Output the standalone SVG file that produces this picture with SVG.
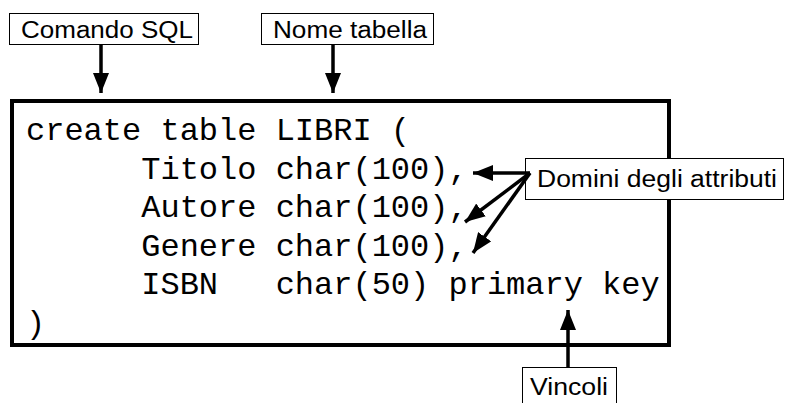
<svg xmlns="http://www.w3.org/2000/svg" width="786" height="403" viewBox="0 0 786 403">
  <style>
    .label-box { fill: #ffffff; stroke: #000000; stroke-width: 1; }
    .label { font-family: "Liberation Sans", Arial, sans-serif; font-size: 23.5px; fill: #000000; }
    .code { font-family: "Courier New", "Nimbus Mono PS", FreeMono, "Liberation Mono", monospace; font-size: 32px; fill: #000000; white-space: pre; }
    .code-box { fill: #ffffff; stroke: #000000; stroke-width: 4; }
    .conn { stroke: #000000; stroke-width: 3.5; fill: none; marker-end: url(#head); }
  </style>
  <defs>
    <marker id="head" markerUnits="userSpaceOnUse" markerWidth="20" markerHeight="16" refX="20" refY="8" orient="auto" viewBox="0 0 20 16">
      <path d="M0,0 L20,8 L0,16 Z" fill="#000000"/>
    </marker>
  </defs>

  <rect width="786" height="403" fill="#ffffff"/>

  <!-- SQL statement block -->
  <g id="code">
    <rect class="code-box" x="12" y="101" width="657" height="244"/>
    <text class="code" x="26" y="140" xml:space="preserve">create table LIBRI (</text>
    <text class="code" x="26" y="178.5" xml:space="preserve">      Titolo char(100),</text>
    <text class="code" x="26" y="217" xml:space="preserve">      Autore char(100),</text>
    <text class="code" x="26" y="255.5" xml:space="preserve">      Genere char(100),</text>
    <text class="code" x="26" y="294" xml:space="preserve">      ISBN   char(50) primary key</text>
    <text class="code" x="26" y="332.5" xml:space="preserve">)</text>
  </g>

  <!-- callout labels -->
  <g id="comando-sql">
    <rect class="label-box" x="9.5" y="13.5" width="189" height="31"/>
    <text class="label" x="21" y="38" textLength="172" lengthAdjust="spacingAndGlyphs">Comando SQL</text>
  </g>
  <g id="nome-tabella">
    <rect class="label-box" x="261.5" y="13.5" width="172" height="31"/>
    <text class="label" x="273" y="38" textLength="154" lengthAdjust="spacingAndGlyphs">Nome tabella</text>
  </g>
  <g id="domini">
    <rect class="label-box" x="525.5" y="158.5" width="258" height="41"/>
    <text class="label" x="537" y="187" textLength="240" lengthAdjust="spacingAndGlyphs">Domini degli attributi</text>
  </g>
  <g id="vincoli">
    <rect class="label-box" x="522.5" y="367.5" width="94" height="40"/>
    <text class="label" x="530" y="395" textLength="78" lengthAdjust="spacingAndGlyphs">Vincoli</text>
  </g>

  <!-- connectors -->
  <g id="connectors">
    <line class="conn" x1="101" y1="45" x2="101" y2="93"/>
    <line class="conn" x1="333" y1="45" x2="333" y2="93"/>
    <line class="conn" x1="530" y1="173" x2="473" y2="173"/>
    <line class="conn" x1="530" y1="173" x2="465" y2="222"/>
    <line class="conn" x1="530" y1="173" x2="473" y2="253"/>
    <line class="conn" x1="568" y1="367" x2="568" y2="310"/>
  </g>
</svg>
